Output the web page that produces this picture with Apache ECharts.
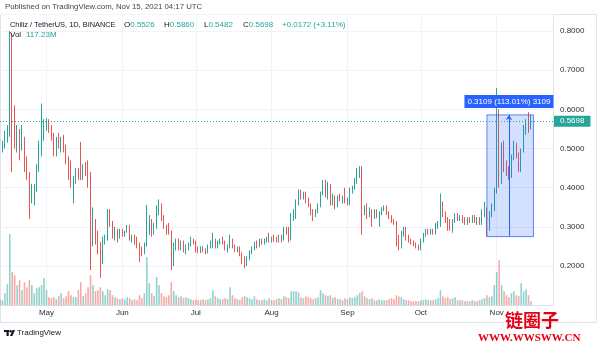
<!DOCTYPE html>
<html><head><meta charset="utf-8">
<script src="https://cdn.jsdelivr.net/npm/echarts@6.0.0/dist/echarts.min.js"></script>
<style>html,body{margin:0;padding:0;background:#fff;}#c{width:597px;height:345px;}</style>
</head><body><div id="c"></div>
<script>
// ---- data (daily candles, Apr 12 .. Nov 15 2021) ----
const startDay = '2021-04-12';
const dayCount = 227; // categories incl. empty right margin
const monthNames = ['Jan','Feb','Mar','Apr','May','Jun','Jul','Aug','Sep','Oct','Nov','Dec'];
const priceTicks = [0.2,0.3,0.4,0.5,0.6,0.7,0.8];

const open = [
0.525,0.505,0.51,0.535,0.545,0.775,0.60,0.515,0.535,0.515,
0.525,0.46,0.43,0.39,0.395,0.40,0.45,0.50,0.535,0.56,
0.57,0.55,0.53,0.495,0.52,0.51,0.525,0.50,0.475,0.43,
0.415,0.42,0.44,0.435,0.43,0.45,0.44,0.435,0.27,0.305,
0.275,0.255,0.215,0.262,0.272,0.338,0.305,0.28,0.29,0.28,
0.288,0.282,0.29,0.30,0.27,0.275,0.265,0.255,0.24,0.235,
0.255,0.29,0.315,0.285,0.30,0.345,0.35,0.32,0.30,0.295,
0.285,0.22,0.25,0.255,0.245,0.26,0.245,0.25,0.255,0.265,
0.262,0.24,0.238,0.245,0.238,0.235,0.25,0.258,0.265,0.25,
0.26,0.265,0.26,0.245,0.252,0.265,0.25,0.24,0.245,0.23,
0.215,0.205,0.22,0.235,0.245,0.255,0.252,0.262,0.26,0.265,
0.27,0.265,0.27,0.268,0.265,0.275,0.268,0.295,0.29,0.27,
0.325,0.335,0.36,0.39,0.38,0.385,0.365,0.355,0.34,0.33,
0.34,0.355,0.385,0.41,0.38,0.405,0.365,0.375,0.355,0.375,
0.37,0.375,0.365,0.36,0.39,0.40,0.42,0.44,0.45,0.345,
0.35,0.335,0.34,0.33,0.335,0.328,0.335,0.345,0.35,0.335,
0.325,0.315,0.31,0.265,0.25,0.285,0.295,0.27,0.265,0.26,
0.255,0.25,0.245,0.265,0.28,0.29,0.283,0.29,0.285,0.305,
0.31,0.355,0.335,0.315,0.31,0.305,0.315,0.33,0.32,0.325,
0.315,0.31,0.32,0.315,0.325,0.315,0.32,0.31,0.335,0.345,
0.30,0.33,0.345,0.39,0.527,0.42,0.505,0.45,0.44,0.43,
0.48,0.505,0.48,0.47,0.495,0.55,0.565,0.5526];
const high = [
0.535,0.52,0.545,0.56,0.80,0.795,0.61,0.56,0.55,0.56,
0.53,0.48,0.44,0.41,0.41,0.46,0.52,0.615,0.575,0.578,
0.575,0.56,0.54,0.53,0.54,0.53,0.535,0.51,0.48,0.47,
0.43,0.45,0.45,0.517,0.46,0.465,0.47,0.44,0.35,0.32,
0.29,0.262,0.275,0.28,0.345,0.345,0.315,0.30,0.295,0.295,
0.295,0.29,0.305,0.305,0.28,0.28,0.275,0.26,0.25,0.26,
0.356,0.33,0.32,0.31,0.355,0.37,0.36,0.33,0.305,0.31,
0.29,0.26,0.27,0.27,0.265,0.265,0.255,0.26,0.275,0.27,
0.265,0.25,0.25,0.25,0.245,0.255,0.265,0.285,0.27,0.265,
0.27,0.275,0.265,0.255,0.28,0.27,0.255,0.25,0.25,0.235,
0.225,0.225,0.24,0.25,0.262,0.265,0.27,0.27,0.27,0.275,
0.285,0.275,0.28,0.275,0.28,0.28,0.30,0.30,0.30,0.335,
0.345,0.37,0.395,0.395,0.39,0.39,0.375,0.36,0.345,0.345,
0.36,0.39,0.42,0.42,0.415,0.41,0.385,0.38,0.38,0.385,
0.38,0.40,0.375,0.40,0.405,0.425,0.45,0.455,0.455,0.355,
0.36,0.35,0.345,0.345,0.345,0.34,0.35,0.355,0.355,0.34,
0.33,0.32,0.315,0.28,0.29,0.30,0.30,0.28,0.27,0.265,
0.26,0.255,0.27,0.285,0.295,0.295,0.295,0.295,0.31,0.315,
0.385,0.365,0.34,0.325,0.32,0.32,0.335,0.335,0.33,0.33,
0.325,0.325,0.325,0.33,0.33,0.325,0.325,0.345,0.364,0.35,
0.34,0.36,0.40,0.655,0.60,0.515,0.52,0.47,0.455,0.485,
0.52,0.515,0.49,0.50,0.56,0.575,0.593,0.586];
const low = [
0.495,0.49,0.50,0.515,0.53,0.44,0.50,0.49,0.47,0.495,
0.44,0.42,0.32,0.36,0.355,0.39,0.44,0.48,0.52,0.545,
0.54,0.52,0.48,0.48,0.50,0.49,0.49,0.46,0.42,0.40,
0.36,0.41,0.42,0.42,0.42,0.43,0.40,0.19,0.25,0.255,
0.23,0.17,0.205,0.255,0.265,0.30,0.27,0.265,0.26,0.27,
0.275,0.275,0.285,0.265,0.26,0.255,0.245,0.21,0.225,0.23,
0.25,0.28,0.275,0.28,0.295,0.33,0.315,0.295,0.28,0.28,
0.19,0.20,0.24,0.24,0.24,0.235,0.23,0.24,0.25,0.255,
0.235,0.232,0.233,0.235,0.23,0.232,0.245,0.245,0.245,0.245,
0.255,0.255,0.24,0.235,0.245,0.245,0.235,0.235,0.225,0.205,
0.195,0.20,0.215,0.23,0.24,0.245,0.248,0.255,0.255,0.26,
0.26,0.26,0.262,0.26,0.26,0.26,0.265,0.28,0.26,0.265,
0.315,0.32,0.355,0.37,0.37,0.36,0.35,0.33,0.315,0.325,
0.335,0.35,0.38,0.375,0.37,0.355,0.355,0.345,0.35,0.365,
0.36,0.36,0.355,0.355,0.385,0.395,0.41,0.425,0.28,0.33,
0.32,0.325,0.30,0.32,0.322,0.30,0.33,0.34,0.33,0.32,
0.31,0.305,0.25,0.24,0.245,0.275,0.265,0.26,0.255,0.25,
0.245,0.24,0.24,0.26,0.275,0.28,0.28,0.28,0.28,0.295,
0.30,0.325,0.31,0.29,0.29,0.285,0.31,0.315,0.315,0.31,
0.305,0.305,0.31,0.31,0.31,0.305,0.305,0.305,0.325,0.2751,
0.29,0.325,0.34,0.385,0.40,0.41,0.44,0.43,0.42,0.425,
0.47,0.475,0.44,0.44,0.49,0.535,0.54,0.5482];
const close = [
0.505,0.51,0.535,0.545,0.775,0.60,0.515,0.535,0.515,0.525,
0.46,0.43,0.39,0.395,0.40,0.45,0.50,0.535,0.56,0.57,
0.55,0.53,0.495,0.52,0.51,0.525,0.50,0.475,0.43,0.415,
0.42,0.44,0.435,0.43,0.45,0.44,0.435,0.27,0.305,0.275,
0.255,0.215,0.262,0.272,0.338,0.305,0.28,0.29,0.28,0.288,
0.282,0.29,0.30,0.27,0.275,0.265,0.255,0.24,0.235,0.255,
0.29,0.315,0.285,0.30,0.345,0.35,0.32,0.30,0.295,0.285,
0.22,0.25,0.255,0.245,0.26,0.245,0.25,0.255,0.265,0.262,
0.24,0.238,0.245,0.238,0.235,0.25,0.258,0.265,0.25,0.26,
0.265,0.26,0.245,0.252,0.265,0.25,0.24,0.245,0.23,0.215,
0.205,0.22,0.235,0.245,0.255,0.252,0.262,0.26,0.265,0.27,
0.265,0.27,0.268,0.265,0.275,0.268,0.295,0.29,0.27,0.325,
0.335,0.36,0.39,0.38,0.385,0.365,0.355,0.34,0.33,0.34,
0.355,0.385,0.41,0.38,0.405,0.365,0.375,0.355,0.375,0.37,
0.375,0.365,0.36,0.39,0.40,0.42,0.44,0.45,0.345,0.35,
0.335,0.34,0.33,0.335,0.328,0.335,0.345,0.35,0.335,0.325,
0.315,0.31,0.265,0.25,0.285,0.295,0.27,0.265,0.26,0.255,
0.25,0.245,0.265,0.28,0.29,0.283,0.29,0.285,0.305,0.31,
0.355,0.335,0.315,0.31,0.305,0.315,0.33,0.32,0.325,0.315,
0.31,0.32,0.315,0.325,0.315,0.32,0.31,0.335,0.345,0.30,
0.33,0.345,0.39,0.527,0.42,0.505,0.45,0.44,0.43,0.48,
0.505,0.48,0.47,0.495,0.55,0.565,0.5526,0.5698];
// volume in millions
const volume = [
180,150,360,630,2130,990,900,600,750,450,
690,540,750,600,360,510,540,600,810,450,
240,210,240,180,270,360,210,270,420,300,
240,240,450,690,270,360,540,900,600,420,
450,540,420,300,480,450,300,240,210,180,
210,180,240,210,150,180,150,300,210,360,
1440,660,360,270,840,600,360,270,240,300,
690,420,300,240,270,210,240,210,180,150,
180,150,150,180,150,180,210,450,270,210,
180,180,210,180,540,300,210,180,150,240,
270,240,210,180,270,180,150,150,180,150,
210,150,150,180,210,180,270,240,210,420,
420,420,390,240,210,270,240,210,180,210,
240,450,360,300,270,300,210,240,180,180,
150,210,180,240,210,240,300,360,420,270,
210,180,210,150,150,180,150,150,150,180,
210,180,300,270,240,180,150,150,120,120,
120,120,150,150,180,150,150,150,180,210,
450,270,210,240,180,210,240,150,150,150,
120,120,120,150,120,120,150,180,210,300,
240,270,600,990,1350,600,420,300,240,360,
420,300,270,660,420,480,300,117.23];

// measure tool (drawn range)
const measureFrom = '2021-10-28', measureTo = '2021-11-16', measureMid = '2021-11-06';
const measureLow = 0.2751, measureHigh = 0.5860;

const UP = '#26a69a', DOWN = '#ef5350';
const UPV = 'rgba(38,166,154,0.5)', DOWNV = 'rgba(239,83,80,0.5)';
const FONT = '"Liberation Sans", Arial, sans-serif';

const categories = [];
const t0 = Date.parse(startDay + 'T00:00:00Z');
for (let k = 0; k < dayCount; k++) categories.push(new Date(t0 + k * 86400000).toISOString().slice(0, 10));
const isMonthStart = (idx, val) => typeof val === 'string' && val.slice(8, 10) === '01';

const candleData = open.map((o, k) => [o, close[k], low[k], high[k]]);
const volData = volume.map((v, k) => ({ value: v, itemStyle: { color: close[k] >= open[k] ? UPV : DOWNV } }));

const n = close.length - 1;
const lastClose = close[n], prevClose = close[n - 1];
const chg = lastClose - prevClose;
const mDiff = measureHigh - measureLow;
const measureText = mDiff.toFixed(4) + ' (' + (mDiff / measureLow * 100).toFixed(2) + '%) ' + Math.round(mDiff * 10000);

const chart = echarts.init(document.getElementById('c'), null, { renderer: 'canvas' });
const txt = (x, y, text, fill, extra) => Object.assign({
  type: 'text', z: 50,
  style: Object.assign({ x: x, y: y, text: text, fill: fill, font: '8px ' + FONT, verticalAlign: 'middle', textVerticalAlign: 'middle' }, extra || {})
});
const grp = (x, y, k, v) => ({
  type: 'text', z: 50,
  style: { x: x, y: y, text: '{k|' + k + '}{v|' + v + '}', font: '8px ' + FONT, verticalAlign: 'middle', textVerticalAlign: 'middle',
    rich: { k: { fill: '#131722', fontSize: 8, fontFamily: FONT }, v: { fill: UP, fontSize: 8, fontFamily: FONT } } }
});

chart.setOption({
  animation: false,
  backgroundColor: '#ffffff',
  textStyle: { fontFamily: FONT },
  grid: [
    { left: 0, right: 44, top: 14, bottom: 39.8, outerBoundsMode: 'none' },
    { left: 0, right: 44, top: 205.2, bottom: 39.8, outerBoundsMode: 'none' }
  ],
  xAxis: [
    { type: 'category', gridIndex: 0, data: categories, boundaryGap: false,
      axisLine: { show: true, lineStyle: { color: '#e0e3eb' } }, axisTick: { show: false },
      axisLabel: { interval: isMonthStart, formatter: v => monthNames[+v.slice(5, 7) - 1], color: '#2a2e39', fontSize: 8, margin: 4, fontFamily: FONT },
      splitLine: { show: true, interval: isMonthStart, lineStyle: { color: '#f0f3fa', width: 1 } } },
    { type: 'category', gridIndex: 1, data: categories, boundaryGap: false, show: false }
  ],
  yAxis: [
    { type: 'value', gridIndex: 0, position: 'right', min: 0.1, max: 0.8436, interval: 0.1,
      axisLine: { show: true, lineStyle: { color: '#e0e3eb' } }, axisTick: { show: false },
      axisLabel: { showMinLabel: false, showMaxLabel: false, color: '#2a2e39', fontSize: 8, margin: 7, fontFamily: FONT,
        formatter: v => (priceTicks.some(p => Math.abs(p - v) < 1e-6) ? v.toFixed(4) : '') },
      splitLine: { show: true, lineStyle: { color: '#f0f3fa', width: 1 } } },
    { type: 'value', gridIndex: 1, min: 0, max: 3000, show: false, splitLine: { show: false } }
  ],
  series: [
    { type: 'bar', xAxisIndex: 1, yAxisIndex: 1, data: volData, barWidth: 1.6, z: 1, silent: true },
    { type: 'candlestick', xAxisIndex: 0, yAxisIndex: 0, data: candleData, barWidth: 1.2, z: 3, clip: false,
      itemStyle: { color: UP, color0: DOWN, borderColor: UP, borderColor0: DOWN, borderWidth: 1 },
      markArea: { silent: true, z: 4,
        itemStyle: { color: 'rgba(41,98,255,0.2)', borderColor: 'rgba(41,98,255,0.75)', borderWidth: 1 },
        label: { show: false },
        data: [[{ coord: [measureFrom, measureLow] }, { coord: [measureTo, measureHigh] }]] },
      markLine: { silent: true, symbol: ['none', 'none'], animation: false, z: 5,
        data: [
          { yAxis: lastClose, symbol: 'none',
            lineStyle: { type: [1, 2], color: UP, width: 1 },
            label: { show: true, position: 'end', formatter: lastClose.toFixed(4), backgroundColor: UP, color: '#fff', fontSize: 8, fontFamily: FONT, padding: [2, 6, 1, 6], distance: 1 } },
          [
            { coord: [measureMid, measureLow], symbol: 'none',
              lineStyle: { type: 'solid', color: '#2962ff', width: 1 },
              label: { show: true, position: 'end', formatter: measureText, backgroundColor: '#2962ff', color: '#fff', fontSize: 8, fontFamily: FONT, padding: [3, 3, 2, 3], distance: 7 } },
            { coord: [measureMid, measureHigh], symbol: 'arrow', symbolSize: [5, 5],
              lineStyle: { type: 'solid', color: '#2962ff', width: 1 },
              label: { show: true, position: 'end', formatter: measureText, backgroundColor: '#2962ff', color: '#fff', fontSize: 8, fontFamily: FONT, padding: [3, 3, 2, 3], distance: 7 } }
          ]
        ] } }
  ],
  graphic: [
    { type: 'rect', z: 0, silent: true, shape: { x: 0.5, y: 14.5, width: 596, height: 308 }, style: { fill: 'none', stroke: '#e0e3eb', lineWidth: 1 } },
    txt(5, 7, 'Published on TradingView.com, Nov 15, 2021 04:17 UTC', '#434651', { font: '7.8px ' + FONT }),
    txt(10, 25, 'Chiliz / TetherUS, 1D, BINANCE', '#131722', { font: '7.4px ' + FONT }),
    grp(124, 25, 'O', open[n].toFixed(4)),
    grp(164, 25, 'H', high[n].toFixed(4)),
    grp(204, 25, 'L', low[n].toFixed(4)),
    grp(243, 25, 'C', lastClose.toFixed(4)),
    txt(282, 25, (chg >= 0 ? '+' : '') + chg.toFixed(4) + ' (' + (chg >= 0 ? '+' : '') + (chg / prevClose * 100).toFixed(2) + '%)', UP),
    txt(10, 35, 'Vol', '#131722'),
    txt(26, 35, volume[n].toFixed(2) + 'M', UP),
    // TradingView logo
    { type: 'rect', z: 50, shape: { x: 4, y: 330, width: 5, height: 2 }, style: { fill: '#131722' } },
    { type: 'rect', z: 50, shape: { x: 6.5, y: 330, width: 2.2, height: 6 }, style: { fill: '#131722' } },
    { type: 'circle', z: 50, shape: { cx: 10.6, cy: 331.2, r: 1.2 }, style: { fill: '#131722' } },
    { type: 'polygon', z: 50, shape: { points: [[12.6, 330], [15, 330], [12.4, 336], [10, 336]] }, style: { fill: '#131722' } },
    txt(17, 333, 'TradingView', '#131722', { font: '500 8px ' + FONT }),
    // watermark
    txt(505, 320, '链圈子', '#e50012', { font: 'bold 18px "Noto Sans CJK SC"' }),
    txt(478, 338, 'WWW.WWSWW.CN', '#e50012', { font: 'bold 11px "Liberation Serif", serif' })
  ]
});
</script>
</body></html>
